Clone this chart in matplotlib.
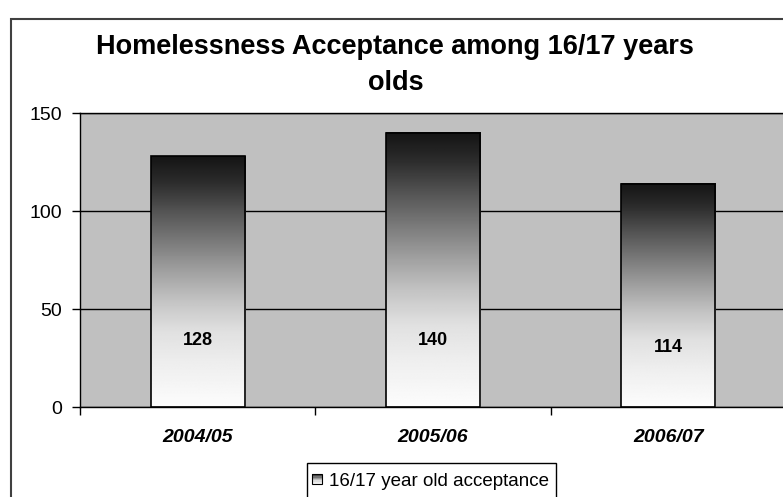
import numpy as np
import matplotlib.pyplot as plt
from matplotlib.patches import Rectangle
from matplotlib.legend_handler import HandlerBase

plt.rcParams['font.family'] = ['Liberation Sans', 'DejaVu Sans']

years = ["2004/05", "2005/06", "2006/07"]
acceptances = [128, 140, 114]
series_name = "16/17 year old acceptance"
title = "Homelessness Acceptance among 16/17 years\nolds"

W, H = 783, 497


def shade(t):
    # grey level down the bar: near black at the top, white at the base
    return np.interp(t, [0, 0.1, 0.22, 0.34, 0.46, 0.58, 0.7, 0.82, 0.94, 1.0],
                     [0.08, 0.17, 0.33, 0.48, 0.63, 0.77, 0.88, 0.93, 0.97, 0.99])


class GradientSquare(HandlerBase):
    def create_artists(self, legend, orig_handle, xdescent, ydescent,
                       width, height, fontsize, trans):
        s = fontsize * 0.55
        x0 = -xdescent + (width - s) / 2
        y0 = -ydescent + (height - s) / 2
        n = 8
        parts = []
        for i in range(n):
            g = float(shade((i + 0.5) / n))
            parts.append(Rectangle((x0, y0 + s - (i + 1) * s / n), s, s / n,
                                   facecolor=str(g), edgecolor='none',
                                   transform=trans))
        parts.append(Rectangle((x0, y0), s, s, facecolor='none',
                               edgecolor='black', lw=0.8, transform=trans))
        return parts


fig = plt.figure(figsize=(W / 100, H / 100), dpi=100)

# outer chart frame
fig.patches.append(Rectangle((11 / W, -0.1), 1.2, 1 - 19 / H + 0.1,
                             transform=fig.transFigure, fill=False,
                             edgecolor='#404040', lw=1.5))

ax = fig.add_axes([80 / W, 1 - 407 / H, 706 / W, 294 / H])
ax.set_facecolor('#c0c0c0')

x = np.arange(len(years))
bars = ax.bar(x, acceptances, width=0.4, facecolor='none',
              edgecolor='black', lw=1.2, zorder=3)

ramp = shade(np.linspace(0, 1, 256))[:, None]
for b in bars:
    x0, w, h = b.get_x(), b.get_width(), b.get_height()
    ax.imshow(ramp, cmap='gray', vmin=0, vmax=1, origin='upper',
              extent=[x0, x0 + w, 0, h], aspect='auto', zorder=2,
              interpolation='bilinear')

for xi, v in zip(x, acceptances):
    ax.text(xi, min(v * 0.265, 34), str(v), ha='center', va='center',
            fontsize=13, fontweight='bold', zorder=4)

ax.set_xlim(-0.5, 2.5)
ax.set_ylim(0, 150)
ax.set_yticks([0, 50, 100, 150])
ax.tick_params(axis='y', labelsize=14, length=6, width=1, pad=7)
ax.yaxis.grid(True, color='black', lw=1)
ax.set_axisbelow(True)

ax.set_xticks(x)
ax.set_xticklabels(years, fontsize=14, fontweight='bold', style='italic')
ax.set_xticks(np.arange(-0.5, 3, 1), minor=True)
ax.tick_params(axis='x', which='major', length=0, pad=16)
ax.tick_params(axis='x', which='minor', length=6, width=1)

for side in ['left', 'bottom', 'top']:
    ax.spines[side].set_color('black')
    ax.spines[side].set_linewidth(1)
ax.spines['right'].set_visible(False)

fig.text(0.505, 1 - 65 / H, title, ha='center', va='center',
         fontsize=19.5, fontweight='bold', linespacing=1.53)

# legend box runs off the bottom edge, so the frame is drawn separately
fig.patches.append(Rectangle((307 / W, -0.1), 249 / W, 1 - 463 / H + 0.1,
                             transform=fig.transFigure, facecolor='white',
                             edgecolor='black', lw=1))
fig.legend([Rectangle((0, 0), 1, 1)], [series_name],
           handler_map={Rectangle: GradientSquare()},
           loc='center left', bbox_to_anchor=(312 / W, 1 - 481 / H),
           fontsize=13.5, frameon=False, handlelength=0.55,
           handletextpad=0.35, borderpad=0, borderaxespad=0)

fig.savefig('out.png', dpi=100)
